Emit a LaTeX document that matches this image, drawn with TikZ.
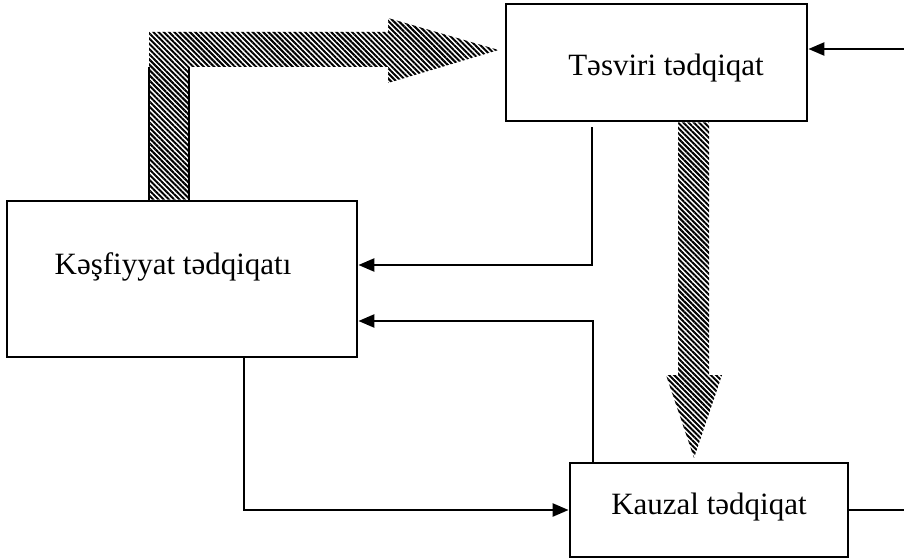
\documentclass[tikz,border=0pt]{standalone}
\usepackage{fontspec}
\setmainfont{Liberation Serif}
\usetikzlibrary{arrows.meta,patterns.meta}
\begin{document}
\begin{tikzpicture}[x=1pt,y=-1pt,
  box/.style={draw=black,line width=2.8pt,fill=white,inner sep=0pt},
  lbl/.style={inner sep=0pt,anchor=base,font=\fontsize{31}{37}\selectfont},
  conn/.style={draw=black,line width=2.4pt,-{Triangle[length=16pt,width=13pt]}},
  hatch/.style={pattern={Lines[angle=-45,distance=3.7pt,line width=2pt]},pattern color=black},
  baredge/.style={draw=black,line width=2pt}]
\useasboundingbox (0,0) rectangle (904,559);
\fill[white] (0,0) rectangle (904,559);

% boxes
\node[box,minimum width=301pt,minimum height=117pt] (tes) at (656.5,62.5) {};
\node[box,minimum width=350pt,minimum height=156pt] (kes) at (182,279) {};
\node[box,minimum width=278pt,minimum height=94pt] (kau) at (709,510) {};

% labels
\node[lbl] (testxt) at (666,76) {Təsviri tədqiqat};
\node[lbl] (kestxt) at (173,274) {Kəşfiyyat tədqiqatı};
\node[lbl] (kautxt) at (709,514) {Kauzal tədqiqat};

% hatched arrow from Kesfiyyat to Tesviri
\coordinate (h1a) at (kes.north -| 149,0);
\coordinate (h1b) at (kes.north -| 189,0);
\coordinate (h1tip) at (tes.west |- 0,50);
\fill[hatch] (h1a) -- (149,32) -- (388,32) -- (388,18) -- ([xshift=-6pt]h1tip) -- (388,83) -- (388,67) -- (189,67) -- (h1b) -- cycle;
\draw[baredge] (h1a) -- (149,67);
\draw[baredge] (h1b) -- (189,67);

% hatched arrow from Tesviri to Kauzal
\coordinate (h2a) at (tes.south -| 678,0);
\coordinate (h2b) at (tes.south -| 709,0);
\coordinate (h2tip) at (694,458);
\fill[hatch] (h2a) -- (678,375) -- (666,375) -- (h2tip) -- (722,375) -- (709,375) -- (h2b) -- cycle;

% connectors
\coordinate (c1) at (592,127);
\draw[conn] (c1) |- (kes.east |- 0,265);
\coordinate (c2) at (kau.north -| 593,0);
\draw[conn] (c2) |- (kes.east |- 0,321);
\coordinate (c3) at (kes.south -| 244,0);
\draw[conn] (c3) |- (kau.west);
\coordinate (c4) at (905.5,510);
\coordinate (c5) at (905.5,49);
\draw[conn] (kau.east) -- (c4) -- (c5) -- (tes.east |- c5);
\end{tikzpicture}
\end{document}
